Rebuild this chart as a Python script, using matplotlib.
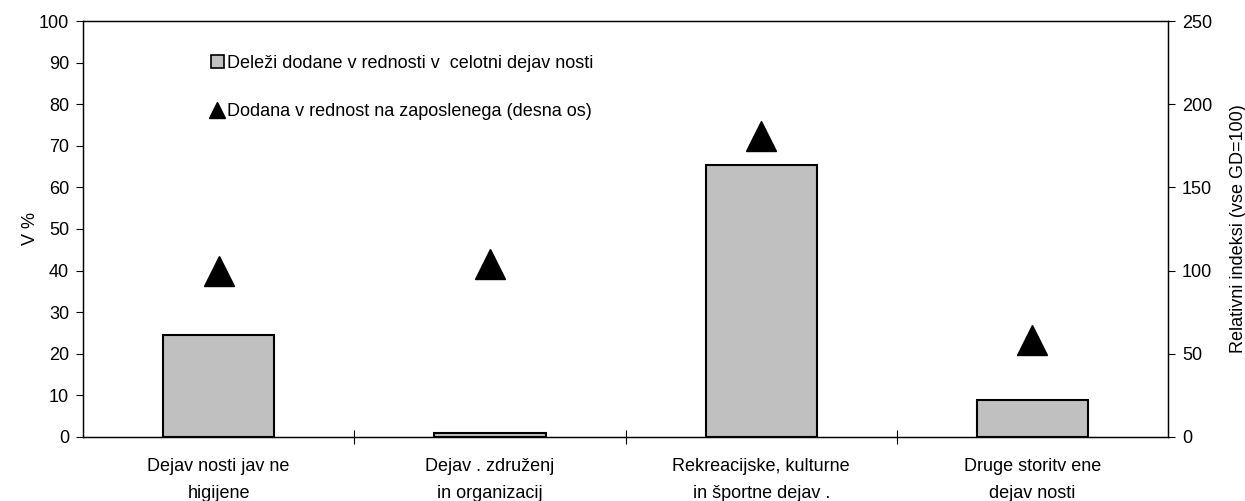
import matplotlib.pyplot as plt
from matplotlib.patches import Patch
from matplotlib.lines import Line2D

plt.rcParams['font.family'] = ['Liberation Sans', 'DejaVu Sans']

categories = [
    "Dejav nosti jav ne\nhigijene",
    "Dejav . združenj\nin organizacij",
    "Rekreacijske, kulturne\nin športne dejav .",
    "Druge storitv ene\ndejav nosti",
]
share_pct = [24.4, 0.9, 65.4, 8.9]         # left axis, V %
index_per_employee = [100, 104, 181, 58]   # right axis, vse GD = 100

FS = 13

fig = plt.figure(figsize=(12.45, 5.01), dpi=100)
ax = fig.add_axes([0.0667, 0.128, 0.8715, 0.830])
ax2 = ax.twinx()

x = list(range(len(categories)))
ax.bar(x, share_pct, width=0.41, color="#c0c0c0", edgecolor="black", linewidth=1.5, zorder=2)
ax2.plot(x, index_per_employee, linestyle="none", marker="^", markersize=21,
         color="black", zorder=3)

ax.set_xlim(-0.5, 3.5)
ax.set_ylim(0, 100)
ax2.set_ylim(0, 250)
ax.set_yticks(range(0, 101, 10))
ax2.set_yticks(range(0, 251, 50))

# category boundaries as ticks, labels centred between them
ax.set_xticks([0.5, 1.5, 2.5])
ax.set_xticklabels([])
ax.set_xticks(x, minor=True)
ax.set_xticklabels(categories, minor=True, fontsize=FS, linespacing=1.8)
ax.tick_params(axis="x", which="major", direction="inout", length=10, width=0.8)
ax.tick_params(axis="x", which="minor", length=0, pad=15)
ax.tick_params(axis="y", direction="out", length=5, labelsize=FS, pad=5)
ax2.tick_params(axis="y", direction="out", length=5, labelsize=FS, pad=5)

for a in (ax, ax2):
    for s in a.spines.values():
        s.set_linewidth(0.9)

ax.set_ylabel("V %", fontsize=FS, labelpad=0)
ax2.set_ylabel("Relativni indeksi (vse GD=100)", fontsize=FS, labelpad=13)

handles = [
    Patch(facecolor="#c0c0c0", edgecolor="black", linewidth=1.2),
    Line2D([], [], linestyle="none", marker="^", markersize=12, color="black"),
]
labels = [
    "Deleži dodane v rednosti v  celotni dejav nosti",
    "Dodana v rednost na zaposlenega (desna os)",
]
ax.legend(handles, labels, loc="upper left", bbox_to_anchor=(0.103, 0.958),
          frameon=False, fontsize=FS, handlelength=0.7, handletextpad=0.2,
          labelspacing=1.75, handleheight=0.7)

fig.savefig("out.png", dpi=100)
